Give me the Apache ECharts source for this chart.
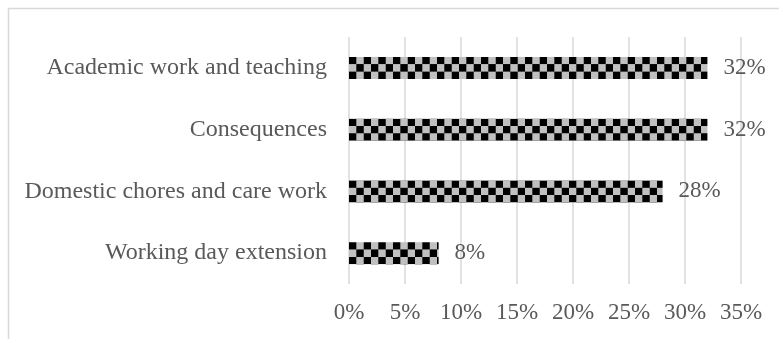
<!DOCTYPE html>
<html>
<head>
<meta charset="utf-8">
<script src="https://cdn.jsdelivr.net/npm/echarts@6/dist/echarts.min.js"></script>
<style>
  html, body { margin: 0; padding: 0; background: #fff; }
  #chart { width: 779px; height: 339px; }
</style>
</head>
<body>
<div id="chart"></div>
<script>
// bottom to top, as the category axis draws them
const categories = ['Working day extension', 'Domestic chores and care work', 'Consequences', 'Academic work and teaching']
const shares = [8, 28, 32, 32]
const ticks = [0, 5, 10, 15, 20, 25, 30, 35]

const FONT = '"Liberation Serif", "Times New Roman", serif'
const TEXT = '#595959'
const LINE = '#d9d9d9'
const BAR_W = 22

// checkerboard tile: black / gray, scaled down to ~7.3px squares
function checkerTile() {
  const s = 11
  const c = document.createElement('canvas')
  c.width = s * 2
  c.height = s * 2
  const g = c.getContext('2d')
  g.fillStyle = '#c0c0c0'
  g.fillRect(0, 0, s * 2, s * 2)
  g.fillStyle = '#000'
  g.fillRect(0, 0, s, s)
  g.fillRect(s, s, s, s)
  return c
}
const tile = checkerTile()

const chart = echarts.init(document.getElementById('chart'), null, { renderer: 'canvas' })

function buildOption(patternAt) {
  return {
    animation: false,
    backgroundColor: '#fff',
    grid: { left: 349, right: 38, top: 37, bottom: 55, containLabel: false },
    graphic: [{
      type: 'rect',
      shape: { x: 8.5, y: 8.5, width: 900, height: 500 },
      style: { fill: null, stroke: LINE, lineWidth: 1.5 },
      silent: true,
    }],
    xAxis: {
      type: 'value',
      min: ticks[0],
      max: ticks[ticks.length - 1],
      interval: 5,
      axisLine: { show: false },
      axisTick: { show: false },
      axisLabel: { color: TEXT, fontFamily: FONT, fontSize: 23, margin: 17, formatter: '{value}%' },
      splitLine: { lineStyle: { color: LINE, width: 1.5 } },
    },
    yAxis: {
      type: 'category',
      data: categories,
      axisLine: { show: false },
      axisTick: { show: false },
      axisLabel: { color: TEXT, fontFamily: FONT, fontSize: 24, margin: 22 },
    },
    series: [{
      type: 'bar',
      barWidth: BAR_W,
      data: shares.map((v, i) => ({
        value: v,
        itemStyle: {
          color: patternAt
            ? { image: tile, repeat: 'repeat', x: patternAt[i].x, y: patternAt[i].y, scaleX: 2 / 3, scaleY: 2 / 3 }
            : '#000',
        },
      })),
      label: {
        show: true,
        position: 'right',
        distance: 16,
        color: TEXT,
        fontFamily: FONT,
        fontSize: 23,
        formatter: '{c}%',
      },
    }],
  }
}

chart.setOption(buildOption(null))
// anchor the checkerboard at each bar's top-left corner
const x0 = chart.convertToPixel({ xAxisIndex: 0 }, 0)
const anchors = categories.map((c, i) => ({
  x: x0,
  y: chart.convertToPixel({ yAxisIndex: 0 }, i) - BAR_W / 2,
}))
chart.setOption(buildOption(anchors), true)
</script>
</body>
</html>
